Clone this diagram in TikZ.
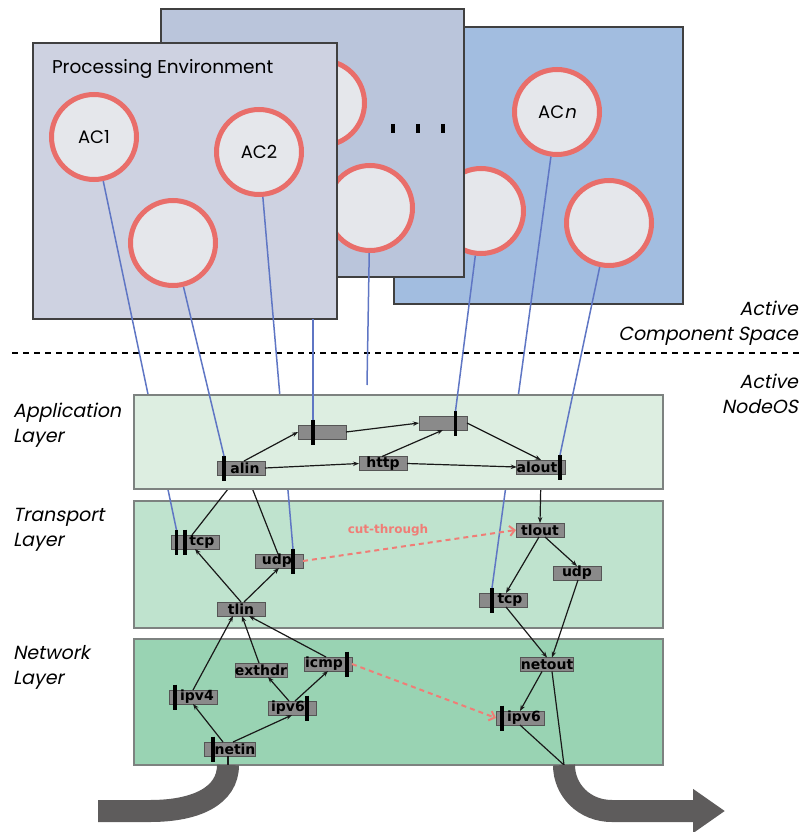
\documentclass[tikz,border=0pt]{standalone}
\usepackage{fontspec}
\setmainfont{DejaVu Sans}
\newfontfamily\geo{Poppins}
\newfontfamily\geoit[FakeSlant=0.2]{Poppins}
\usetikzlibrary{arrows.meta}
\definecolor{frontfill}{RGB}{206,210,225}
\definecolor{midfill}{RGB}{186,197,219}
\definecolor{backfill}{RGB}{162,189,224}
\definecolor{acfill}{RGB}{229,231,235}
\definecolor{ring}{RGB}{233,110,106}
\definecolor{appfill}{RGB}{221,238,225}
\definecolor{trfill}{RGB}{191,227,206}
\definecolor{netfill}{RGB}{153,211,179}
\definecolor{layerborder}{RGB}{125,130,128}
\definecolor{modfill}{RGB}{138,138,138}
\definecolor{modborder}{RGB}{85,85,85}
\definecolor{acline}{RGB}{95,118,196}
\definecolor{cutcol}{RGB}{240,125,118}
\definecolor{bigcol}{RGB}{94,92,92}
\pgfdeclarelayer{back}
\pgfdeclarelayer{under}
\pgfdeclarelayer{appbg}
\pgfsetlayers{back,under,appbg,main}
\newcommand\rsh[2]{\hspace*{#1pt}#2}
\newcommand\lsh[2]{#2\hspace*{#1pt}}
\begin{document}
\begin{tikzpicture}[x=1pt,y=-1pt,
  every node/.style={inner sep=0pt,outer sep=0pt},
  pebox/.style={draw=black!75,line width=1.3pt},
  ac/.style={circle,fill=acfill,draw=ring,line width=5pt,minimum size=85pt,outer sep=2.5pt,font=\geo\fontsize{18}{20}\selectfont},
  layer/.style={draw=layerborder,line width=1.2pt},
  mod/.style={rectangle,fill=modfill,draw=modborder,line width=0.8pt,minimum width=48pt,minimum height=14pt,font=\bfseries\fontsize{14}{14}\selectfont},
  barst/.style={line width=3.8pt,black},
  aln/.style={draw=acline,line width=1.5pt},
  flow/.style={draw=black!90,line width=1.2pt},
  flowa/.style={flow,-{Stealth[length=6pt,width=4.5pt]}},
  cut/.style={draw=cutcol,line width=2pt,dash pattern=on 5pt off 4pt,-{Straight Barb[length=5pt,width=10pt]}},
  big/.style={draw=bigcol,line width=22pt},
  lbl/.style={font=\geoit\fontsize{19}{24.5}\selectfont}
]
\useasboundingbox (0,0) rectangle (799,832);
\newcommand\modbar[2]{\draw[barst] ([xshift=#2pt,yshift=12.5pt]#1.center) -- ([xshift=#2pt,yshift=-12.5pt]#1.center);}

\begin{pgfonlayer}{back}
% back processing environment
\draw[pebox,fill=backfill] (394,27) rectangle (683,304);
\node[ac] (cb1) at (481,211) {};
\node[ac] (acn) at (557,112) {AC{\geoit n}};
\node[ac] (cb2) at (609,223) {};
% middle processing environment
\draw[pebox,fill=midfill] (161,9) rectangle (464,277);
\node[ac] (cm1) at (322,103) {};
\node[ac] (cm2) at (370,208) {};
\foreach \x in {393,418,443} \draw[line width=3.5pt] (\x,124) -- (\x,133);
% front processing environment
\draw[pebox,fill=frontfill] (33,43) rectangle (337,319);
\node[ac] (ac1) at (94,137) {AC1};
\node[ac] (ac2) at (259,152) {AC2};
\node[ac] (cf) at (173,243) {};
\node[anchor=base west,font=\geo\fontsize{18.5}{20}\selectfont] (pe) at (52,74) {Processing Environment};
% separator and side labels
\draw[line width=1.8pt,dash pattern=on 6pt off 5pt] (12,353) -- (799,353);
\node[lbl,anchor=base east,align=right] (acs) at (798,340) {Active\\Component Space};
\node[lbl,anchor=base east,align=right] (nos) at (798,413) {Active\\NodeOS};
\node[lbl,anchor=base west,align=left] (lapp) at (13,442) {Application\\Layer};
\node[lbl,anchor=base west,align=left] (ltr) at (13,546) {Transport\\Layer};
\node[lbl,anchor=base west,align=left] (lnet) at (13,684) {Network\\Layer};
% transport and network layers
\draw[layer,fill=trfill] (134,501) rectangle (663,628);
\draw[layer,fill=netfill] (134,639) rectangle (663,765);
\end{pgfonlayer}

% application layer modules
\node[mod] (box1) at (322,432) {};
\node[mod] (box2) at (443,423) {};
\node[mod] (alin) at (241,468) {\rsh{8}{alin}};
\node[mod] (http) at (383,463.5) {http};
\node[mod] (alout) at (541,467) {\lsh{8}{alout}};
% transport layer modules
\node[mod] (tcpL) at (195,542) {\rsh{14}{tcp}};
\node[mod] (udp) at (279,561) {\lsh{4}{udp}};
\node[mod] (tlin) at (241,609) {tlin};
\node[mod] (tlout) at (540,530) {tlout};
\node[mod] (udpR) at (577,573) {udp};
\node[mod] (tcpR) at (503,600) {\rsh{14}{tcp}};
% network layer modules
\node[mod] (exthdr) at (261,670) {exthdr};
\node[mod] (icmp) at (328,664) {\lsh{8}{icmp}};
\node[mod] (ipv4) at (193,697) {\rsh{8}{ipv4}};
\node[mod] (ipv6L) at (292,708) {\lsh{8}{ipv6}};
\node[mod] (netin) at (230,749) {\rsh{10}{netin}};
\node[mod] (netout) at (547,664.5) {netout};
\node[mod] (ipv6R) at (520,718) {\rsh{8}{ipv6}};
% bars
\modbar{box1}{-9}
\modbar{box2}{12.5}
\modbar{alin}{-17}
\modbar{alout}{19}
\modbar{tcpL}{-18.5}
\modbar{tcpL}{-10}
\modbar{udp}{14}
\modbar{tcpR}{-11}
\modbar{icmp}{19}
\modbar{ipv4}{-18}
\modbar{ipv6L}{15}
\modbar{netin}{-17}
\modbar{ipv6R}{-18}

\begin{pgfonlayer}{appbg}
\draw[layer,fill=appfill] (134,395) rectangle (663,489);
\end{pgfonlayer}

\begin{pgfonlayer}{under}
\draw[aln] (ac1) -- ([xshift=-18.5pt,yshift=12pt]tcpL.center);
\draw[aln] (ac2) -- ([xshift=14pt,yshift=12pt]udp.center);
\draw[aln] (acn) -- ([xshift=-11pt,yshift=12pt]tcpR.center);
\draw[flow] ([xshift=-3pt]tcpL.north) -- ([xshift=-2pt]alin.south);
\draw[flow] ([xshift=-1pt]udp.north) -- ([xshift=6pt]alin.south);
\draw[flowa] (alout.south) -- (tlout.north);
\end{pgfonlayer}

% visible blue lines
\coordinate (pebot) at (313,319);
\coordinate (cm2end) at (367,385);
\draw[aln] (cf) -- ([xshift=-17pt,yshift=12pt]alin.center);
\draw[aln] (pebot) -- ([xshift=-9pt,yshift=12pt]box1.center);
\draw[aln] (cb1) -- ([xshift=12.5pt,yshift=12pt]box2.center);
\draw[aln] (cb2) -- ([xshift=19pt,yshift=12pt]alout.center);
\draw[aln] (cm2) -- (cm2end);

% application flows
\draw[flowa] ([xshift=3pt]alin.north) -- (box1.west);
\draw[flowa] (box1.east) -- (box2.west);
\draw[flowa] (alin.east) -- (http.west);
\draw[flowa] ([xshift=-1pt]http.north) -- (box2.south);
\draw[flowa] (http.east) -- (alout.west);
\draw[flowa] (box2.east) -- (alout.north);
% transport flows
\draw[flowa] (tlin.north) -- (tcpL.south);
\draw[flowa] ([xshift=3pt]tlin.north) -- (udp.south);
\draw[flowa] ([xshift=-1pt]tlout.south) -- ([xshift=3pt]tcpR.north);
\draw[flowa] ([xshift=5pt]tlout.south) -- (udpR.north);
\draw[flowa] ([xshift=3pt]tcpR.south) -- (netout.north);
\draw[flowa] ([xshift=1pt]udpR.south) -- ([xshift=5pt]netout.north);
% network flows
\draw[flowa] (ipv4.north) -- ([xshift=-8pt]tlin.south);
\draw[flowa] ([xshift=-2pt]exthdr.north) -- ([xshift=1pt]tlin.south);
\draw[flowa] ([xshift=-2pt]icmp.north) -- ([xshift=8pt]tlin.south);
\draw[flowa] ([xshift=-7pt]netin.north) -- (ipv4.south);
\draw[flowa] ([xshift=3pt]netin.north) -- (ipv6L.south);
\draw[flowa] ([xshift=-3pt]ipv6L.north) -- ([xshift=7pt]exthdr.south);
\draw[flowa] ([xshift=3pt]ipv6L.north) -- (icmp.south);
\draw[flowa] ([xshift=-5pt]netout.south) -- (ipv6R.north);
\coordinate (entryL) at (228,765);
\coordinate (exitR) at (564,765);
\draw[flow] ([xshift=-2pt]netin.south) -- (entryL);
\draw[flow] (ipv6R.south) -- (exitR);
\draw[flow] ([xshift=5pt]netout.south) -- (exitR);
% cut-through
\draw[cut] (udp.east) -- (tlout.west);
\draw[cut] (icmp.east) -- (ipv6R.west);
\node[font=\bfseries\fontsize{12}{12}\selectfont,text=cutcol] (cutlbl) at (388,530) {cut-through};
% big in/out arrows
\coordinate (inL) at (98,811);
\coordinate (outR) at (725,811);
\draw[big] (inL) -- (150,811) .. controls (196,811) and (228,796) .. (entryL);
\draw[big,-{Triangle[length=32pt,width=42pt]}] (exitR) .. controls (564,790) and (584,811) .. (612,811) -- (outR);
\end{tikzpicture}
\end{document}
